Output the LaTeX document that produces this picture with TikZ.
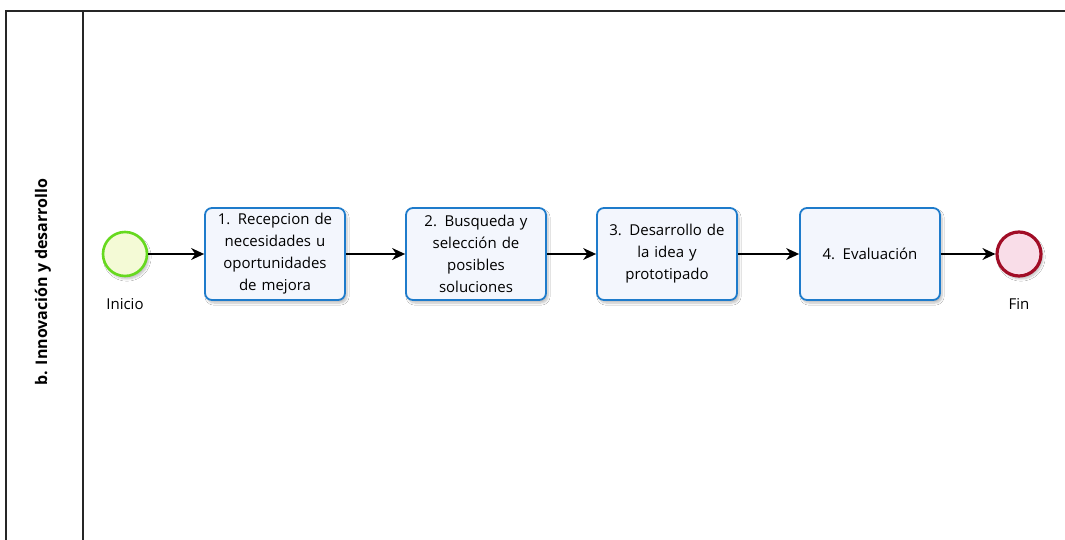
\documentclass[tikz,border=0pt]{standalone}
\usepackage{fontspec}
\setmainfont{Open Sans}
\usetikzlibrary{arrows.meta,shadows.blur}
\definecolor{taskblue}{HTML}{1E7BCB}
\definecolor{taskfill}{HTML}{F3F6FD}
\definecolor{startgreen}{HTML}{66D91E}
\definecolor{startfill}{HTML}{F4FAD6}
\definecolor{endred}{HTML}{A10D26}
\definecolor{endfill}{HTML}{F9DDE8}
\tikzset{
  task/.style={draw=taskblue, line width=1.8pt, rounded corners=7pt,
    fill=taskfill, minimum width=138pt, minimum height=92pt,
    align=center, text width=140pt, inner sep=0pt, font=\fontsize{15}{22}\selectfont,
    blur shadow={shadow xshift=2pt, shadow yshift=-3pt, shadow blur steps=6, shadow opacity=25}},
  startev/.style={circle, draw=startgreen, line width=2.6pt, fill=startfill,
    minimum size=44pt, inner sep=0pt,
    blur shadow={shadow xshift=2pt, shadow yshift=-3pt, shadow blur steps=6, shadow opacity=25}},
  endev/.style={circle, draw=endred, line width=3.2pt, fill=endfill,
    minimum size=44pt, inner sep=0pt,
    blur shadow={shadow xshift=2pt, shadow yshift=-3pt, shadow blur steps=6, shadow opacity=25}},
  evlabel/.style={font=\fontsize{15}{18}\selectfont},
  flow/.style={draw=black, line width=1.2pt, -{Stealth[length=13pt,width=12pt]}},
  lane/.style={draw=black!85, line width=1.6pt}
}
\begin{document}
\begin{tikzpicture}[x=1pt,y=-1pt]
  \useasboundingbox (0,0) rectangle (1065,540);
  \fill[white] (0,0) rectangle (1065,540);
  % pool and lane borders
  \draw[lane] (6,540) -- (6,11) -- (1066,11);
  \draw[lane] (83,11) -- (83,540);
  \node[rotate=90, font=\fontsize{16}{18}\selectfont\bfseries] (lanename) at (43,282) {b. Innovación y desarrollo};
  % events and tasks
  \node[startev] (inicio) at (125,254) {};
  \node[evlabel] (inicioL) at (125,304) {Inicio};
  \node[task] (t1) at (275,254) {1. Recepcion de\\necesidades u\\oportunidades\\de mejora};
  \node[task] (t2) at (476,254) {2. Busqueda y\\selección de\\posibles\\soluciones};
  \node[task] (t3) at (667,254) {3. Desarrollo de\\la idea y\\prototipado};
  \node[task] (t4) at (870,254) {4. Evaluación};
  \node[endev] (fin) at (1019,254) {};
  \node[evlabel] (finL) at (1019,304) {Fin};
  % sequence flows
  \draw[flow] (inicio) -- (t1);
  \draw[flow] (t1) -- (t2);
  \draw[flow] (t2) -- (t3);
  \draw[flow] (t3) -- (t4);
  \draw[flow] (t4) -- (fin);
\end{tikzpicture}
\end{document}
